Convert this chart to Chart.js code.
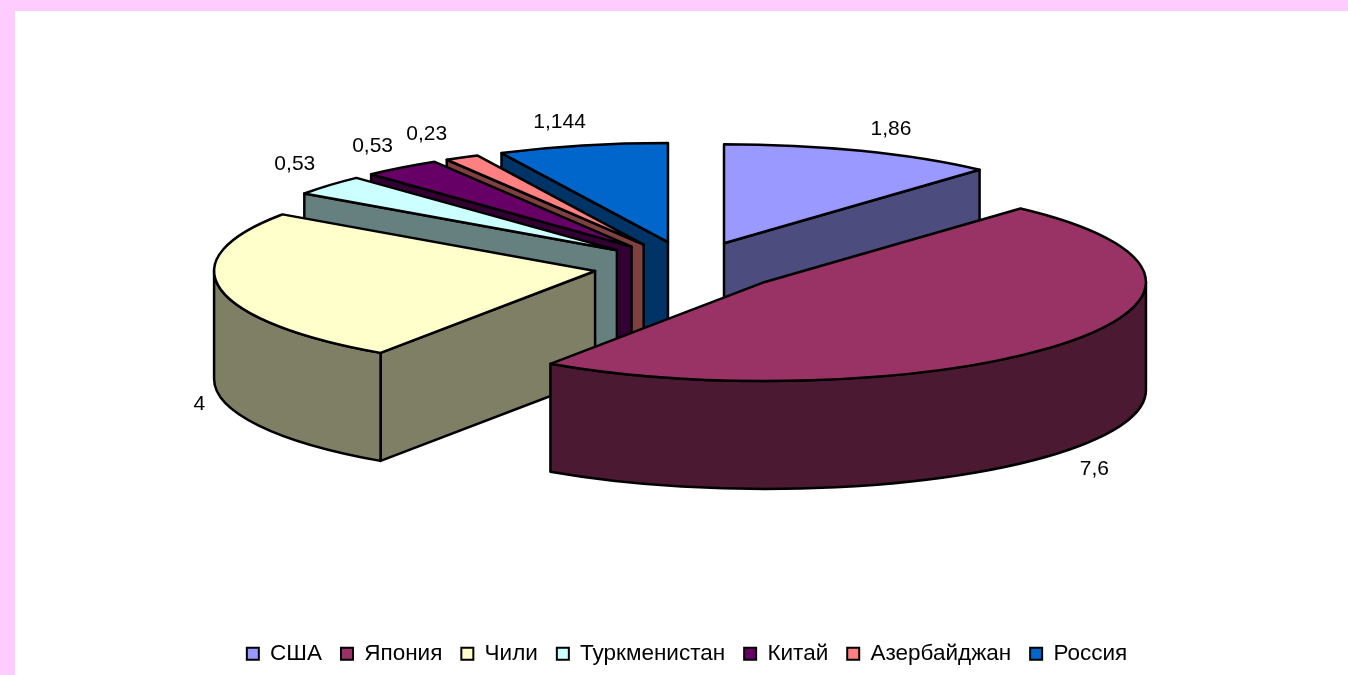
<!DOCTYPE html>
<html>
<head>
<meta charset="utf-8">
<script src="https://cdn.jsdelivr.net/npm/chart.js@4"></script>
<style>
  html, body { margin: 0; height: 100%; overflow: hidden; background: #ffccff; }
  #sheet { position: absolute; left: 15px; top: 11px; right: 0; bottom: 0; background: #fff; }
  canvas { position: absolute; left: 0; top: 0; }
</style>
</head>
<body>
<div id="sheet"></div>
<canvas id="pie" width="1348" height="675"></canvas>
<script>
// Data
const countries = ["США", "Япония", "Чили", "Туркменистан", "Китай", "Азербайджан", "Россия"];
const amounts = [1.86, 7.6, 4, 0.53, 0.53, 0.23, 1.144];
const amountLabels = ["1,86", "7,6", "4", "0,53", "0,53", "0,23", "1,144"];
const sliceColors = ["#9999ff", "#993366", "#ffffcc", "#ccffff", "#660066", "#ff8080", "#0066cc"];

// Fake 3D settings: flattened pie with a wall under each slice
const pieCenterX = 689.5;
const pieCenterY = 266.5;
const pieRadius = 381;
const flatten = 0.26; // vertical squash of the disc
const wallDepth = 108;
const explode = 96;
const drawOrder = [6, 5, 4, 3, 0, 2, 1]; // back to front

// label shift from the slice rim, in pixels
const labelShift = [[30, -22], [30, 18], [-21, 7], [-34, -21], [-29, -21], [-35, -23], [-23, -23]];

function halfColor(hex) {
  const n = parseInt(hex.slice(1), 16);
  const r = (n >> 16) >> 1, g = ((n >> 8) & 255) >> 1, b = (n & 255) >> 1;
  return "rgb(" + r + "," + g + "," + b + ")";
}

// moves the context to the flattened, exploded position of one slice
function placeSlice(ctx, arc) {
  const mid = (arc.startAngle + arc.endAngle) / 2;
  ctx.translate(pieCenterX, pieCenterY);
  ctx.scale(1, flatten);
  ctx.translate(Math.cos(mid) * explode - arc.x, Math.sin(mid) * explode - arc.y);
}

// builds the path inside the flattened space, then fills and strokes it in plain pixels
function paintPath(ctx, arc, color, buildPath) {
  ctx.save();
  placeSlice(ctx, arc);
  ctx.beginPath();
  buildPath();
  ctx.restore();
  ctx.fillStyle = color;
  ctx.fill();
  ctx.lineWidth = 2.5;
  ctx.strokeStyle = "#000";
  ctx.lineJoin = "round";
  ctx.stroke();
}

function radialWall(ctx, arc, angle, color) {
  const d = wallDepth / flatten;
  const ex = arc.x + Math.cos(angle) * arc.outerRadius;
  const ey = arc.y + Math.sin(angle) * arc.outerRadius;
  paintPath(ctx, arc, color, function () {
    ctx.moveTo(arc.x, arc.y);
    ctx.lineTo(ex, ey);
    ctx.lineTo(ex, ey + d);
    ctx.lineTo(arc.x, arc.y + d);
    ctx.closePath();
  });
}

const pie3d = {
  id: "pie3d",
  beforeDatasetsDraw(chart) {
    const ctx = chart.ctx;
    const arcs = chart.getDatasetMeta(0).data;
    const d = wallDepth / flatten;

    drawOrder.forEach(function (i) {
      const arc = arcs[i];
      const wall = halfColor(sliceColors[i]);
      const a0 = arc.startAngle, a1 = arc.endAngle;

      // only the walls that face the viewer
      if (-Math.cos(a0) > 0.001) radialWall(ctx, arc, a0, wall);
      if (Math.cos(a1) > 0.001) radialWall(ctx, arc, a1, wall);

      const from = Math.max(a0, 0), to = Math.min(a1, Math.PI);
      if (to > from) {
        paintPath(ctx, arc, wall, function () {
          ctx.arc(arc.x, arc.y, arc.outerRadius, from, to);
          ctx.arc(arc.x, arc.y + d, arc.outerRadius, to, from, true);
          ctx.closePath();
        });
      }

      // top of the slice, drawn by the library's own arc element
      ctx.save();
      placeSlice(ctx, arc);
      arc.draw(ctx);
      ctx.restore();

      paintPath(ctx, arc, "rgba(0,0,0,0)", function () {
        ctx.moveTo(arc.x, arc.y);
        ctx.arc(arc.x, arc.y, arc.outerRadius, a0, a1);
        ctx.closePath();
      });
    });

    // value labels
    ctx.save();
    ctx.fillStyle = "#000";
    ctx.font = "21px 'Liberation Sans'";
    ctx.textAlign = "center";
    ctx.textBaseline = "middle";
    arcs.forEach(function (arc, i) {
      const mid = (arc.startAngle + arc.endAngle) / 2;
      const rim = arc.outerRadius + explode;
      const x = pieCenterX + Math.cos(mid) * rim;
      let y = pieCenterY + Math.sin(mid) * rim * flatten;
      if (Math.sin(mid) > 0 || Math.abs(Math.cos(mid)) > 0.9) y += wallDepth;
      ctx.fillText(amountLabels[i], x + labelShift[i][0], y + labelShift[i][1]);
    });
    ctx.restore();
    return false;
  }
};

new Chart("pie", {
  type: "pie",
  data: {
    labels: countries,
    datasets: [{
      data: amounts,
      backgroundColor: sliceColors,
      borderWidth: 0
    }]
  },
  plugins: [pie3d],
  options: {
    responsive: false,
    animation: false,
    radius: pieRadius,
    layout: { padding: { left: 26, bottom: 0 } },
    plugins: {
      tooltip: { enabled: false },
      legend: {
        position: "bottom",
        labels: {
          color: "#000",
          font: { family: "'Liberation Sans'", size: 22.5 },
          boxWidth: 12,
          boxHeight: 12,
          padding: 19,
          generateLabels(chart) {
            return Chart.overrides.pie.plugins.legend.labels.generateLabels(chart).map(function (item) {
              item.strokeStyle = "#000";
              item.lineWidth = 2;
              return item;
            });
          }
        }
      }
    }
  }
});
</script>
</body>
</html>
